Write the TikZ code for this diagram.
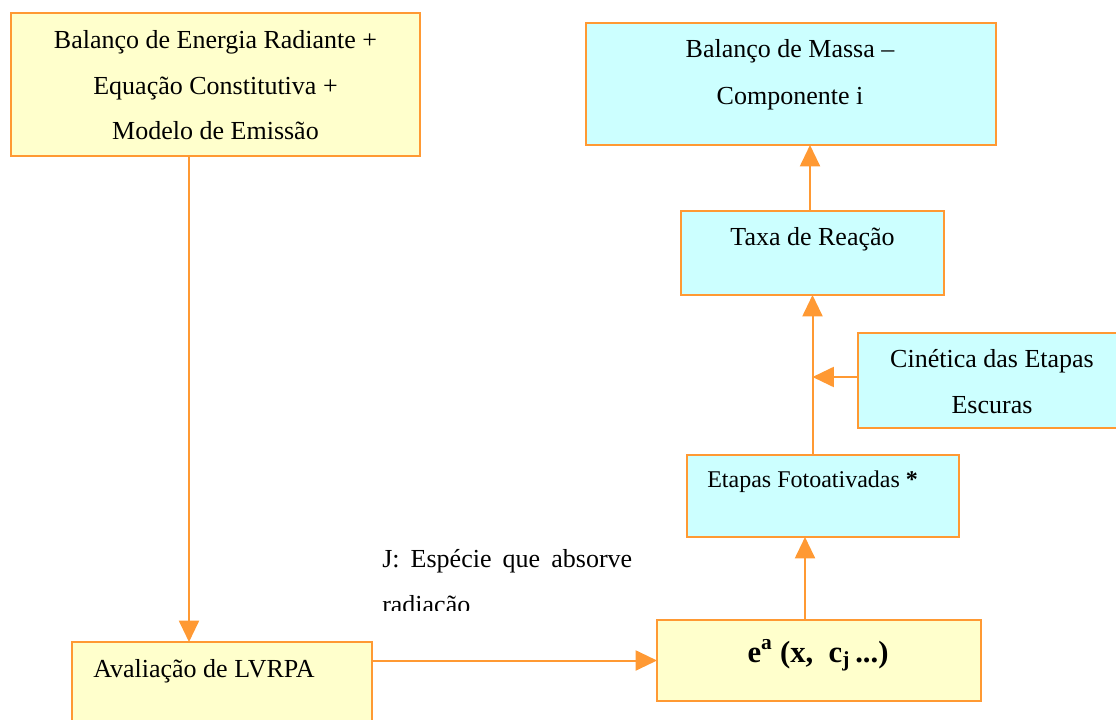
\documentclass[tikz,border=0pt]{standalone}
\usepackage{fontspec}
\setmainfont{Liberation Serif}
\usetikzlibrary{arrows.meta,fit}
\definecolor{boxorange}{HTML}{FF9933}
\definecolor{paleyellow}{HTML}{FFFFCC}
\definecolor{palecyan}{HTML}{CCFFFF}
\tikzset{
  box/.style={draw=boxorange, line width=1.5pt, inner sep=0pt, outer sep=0pt, rectangle},
  ybox/.style={box, fill=paleyellow},
  cbox/.style={box, fill=palecyan},
  arr/.style={draw=boxorange, line width=1.5pt, -{Triangle[width=15pt,length=16pt]}},
  txt/.style={font=\fontsize{19.5}{34}\selectfont, inner sep=0pt, align=center},
  smalltxt/.style={font=\fontsize{18}{30}\selectfont, inner sep=0pt},
  bigtxt/.style={font=\fontsize{23}{34}\selectfont\bfseries, inner sep=0pt},
}
\begin{document}
\begin{tikzpicture}[x=0.75pt,y=-0.75pt]
\useasboundingbox (0,0) rectangle (1116,720);

% boxes
\node[ybox, fit={(11,13) (420,156)}] (A) {};
\node[cbox, fit={(586,23) (996,145)}] (B) {};
\node[cbox, fit={(681,211) (944,295)}] (C) {};
\node[cbox, fit={(858,333) (1126,428)}] (D) {};
\node[cbox, fit={(687,455) (959,537)}] (E) {};
\node[ybox, fit={(657,620) (981,701)}] (F) {};
\node[ybox, fit={(72,642) (372,740)}] (G) {};

% box texts
\node[txt, anchor=base] (At1) at (215.5,49) {Balanço de Energia Radiante +};
\node[txt, anchor=base] (At2) at (215.5,95) {Equação Constitutiva +};
\node[txt, anchor=base] (At3) at (215.5,140) {Modelo de Emissão};
\node[txt, anchor=base] (Bt1) at (790,58) {Balanço de Massa --};
\node[txt, anchor=base] (Bt2) at (790,105) {Componente i};
\node[txt, anchor=base] (Ct) at (812.5,246) {Taxa de Reação};
\node[txt, anchor=base] (Dt1) at (992,367) {Cinética das Etapas};
\node[txt, anchor=base] (Dt2) at (992,413) {Escuras};
\node[smalltxt, anchor=base west] (Et) at (707,487) {Etapas Fotoativadas \textbf{*}};
\node[bigtxt, anchor=base] (Ft) at (818,662) {e\textsuperscript{a} (x,\ \ c\textsubscript{j}\,...)};
\node[txt, anchor=base west] (Gt) at (93,677) {Avaliação de LVRPA};

% side note, cut off at its lower edge
\begin{scope}
  \clip (370,530) rectangle (660,610);
  \node[txt, anchor=base west] (note1) at (382,567)
    {\makebox[187.5pt][s]{J: Espécie que absorve}};
  \node[txt, anchor=base west] (note2) at (382,613) {radiação};
\end{scope}

% connectors
\coordinate (lineA) at (189,0);
\coordinate (lineF) at (805,0);
\coordinate (lineB) at (810,0);
\coordinate (lineD) at (0,377);
\draw[arr] (A.south -| lineA) -- (G.north -| lineA);
\draw[arr] (G.east |- F.west) -- (F.west);
\draw[arr] (F.north -| lineF) -- (E.south -| lineF);
\draw[arr] (E.north -| C.south) -- (C.south);
\draw[arr] (D.west |- lineD) -- (C.south |- lineD);
\draw[arr] (C.north -| lineB) -- (B.south -| lineB);
\end{tikzpicture}
\end{document}
